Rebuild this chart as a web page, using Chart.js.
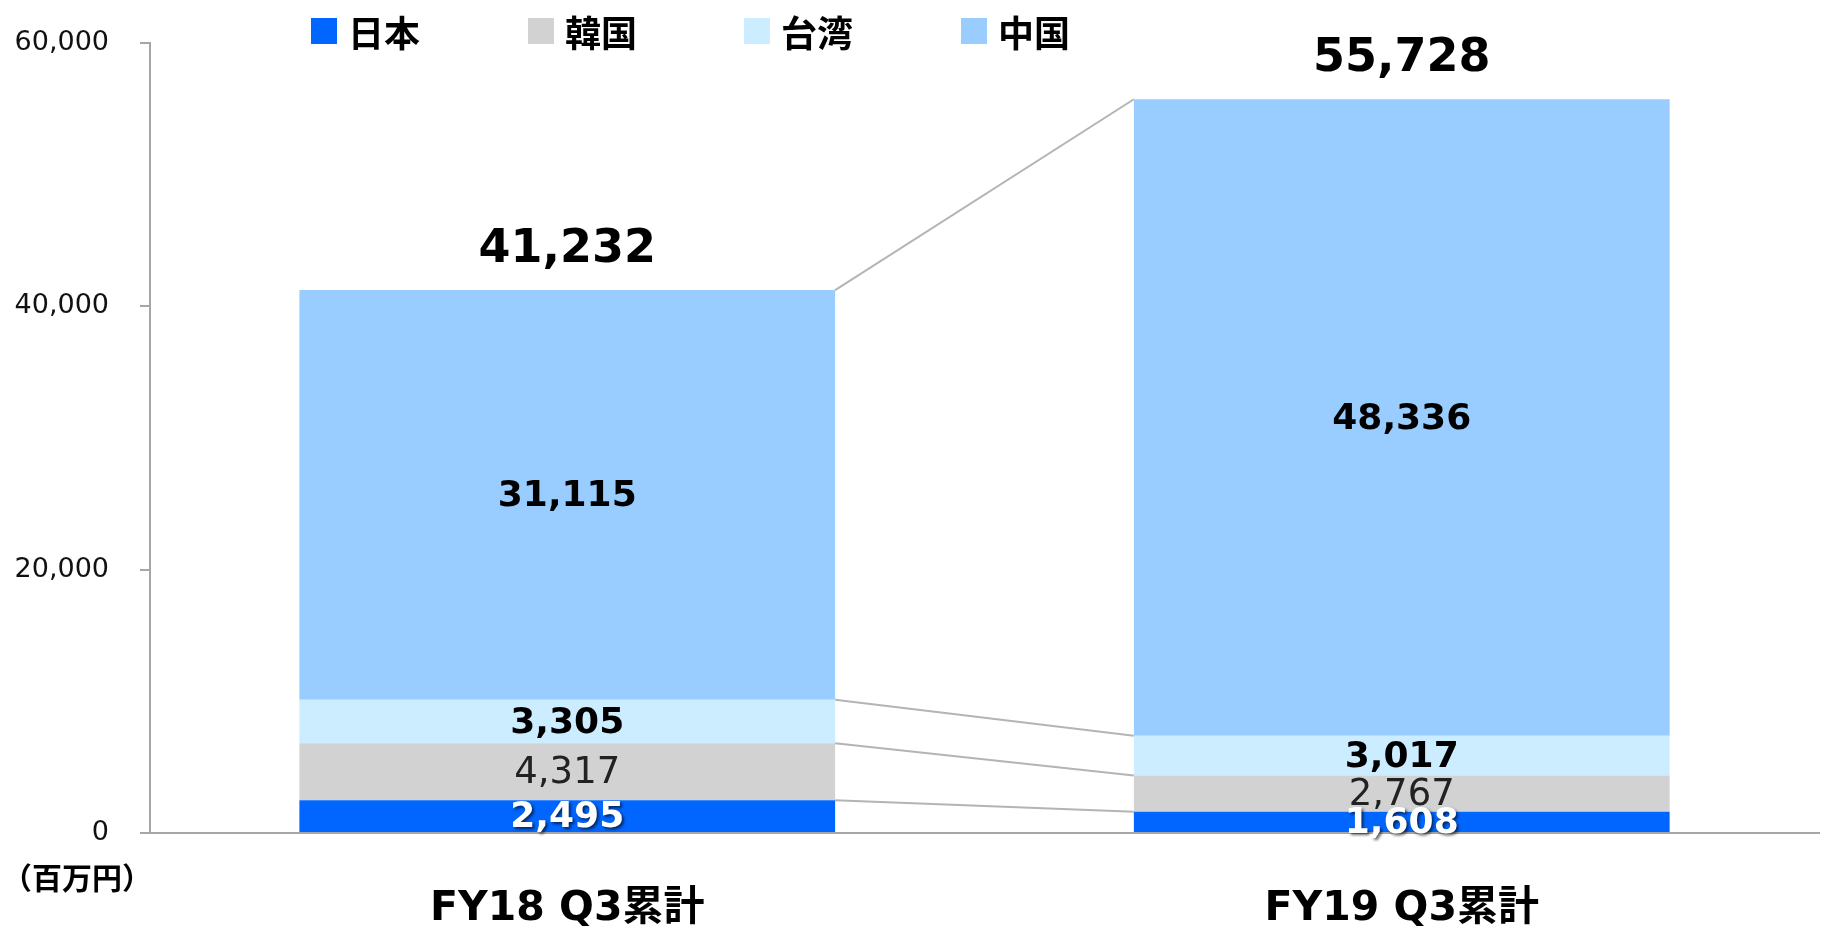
<!DOCTYPE html>
<html>
<head>
<meta charset="utf-8">
<script src="https://cdn.jsdelivr.net/npm/chart.js@4.4.0/dist/chart.umd.min.js"></script>
<style>
  body { margin: 0; background: #fff; }
  #wrap { position: relative; width: 1826px; height: 930px; }
  #legend { position: absolute; left: 0; top: 0; width: 1826px; height: 60px; font-family: "DejaVu Sans", "Noto Sans CJK JP", sans-serif; }
  .item { position: absolute; top: 14px; height: 34px; display: flex; align-items: center; font-weight: bold; font-size: 36px; color: #000; }
  .box { width: 26px; height: 26px; margin-right: 11px; }
  #unit { position: absolute; left: 2px; top: 854px; font: bold 30px "Noto Sans CJK JP", sans-serif; color: #000; }
</style>
</head>
<body>
<div id="wrap">
  <canvas id="myChart" width="1826" height="930"></canvas>
  <div id="legend"></div>
  <div id="unit">（百万円）</div>
</div>
<script>
var categories = ['FY18 Q3累計', 'FY19 Q3累計'];
var seriesNames = ['日本', '韓国', '台湾', '中国'];
var japan = [2495, 1608];
var korea = [4317, 2767];
var taiwan = [3305, 3017];
var china = [31115, 48336];
var yTicks = [0, 20000, 40000, 60000];

var colors = ['#0066FF', '#D2D2D2', '#CCECFF', '#99CCFF'];
var allSeries = [japan, korea, taiwan, china];

// legend
var legend = document.getElementById('legend');
var legendX = [311, 528, 744, 961];
seriesNames.forEach(function(name, i) {
    var d = document.createElement('div');
    d.className = 'item';
    d.style.left = legendX[i] + 'px';
    d.innerHTML = '<div class="box" style="background:' + colors[i] + '"></div>' + name;
    legend.appendChild(d);
});

function fmt(v) {
    return v.toLocaleString('en-US');
}

var labelStyles = [
    { font: 'bold 36px "DejaVu Sans"', color: '#FFFFFF', shadow: true },
    { font: '37px "DejaVu Sans"', color: '#222222', shadow: false },
    { font: 'bold 36px "DejaVu Sans"', color: '#000000', shadow: false },
    { font: 'bold 36px "DejaVu Sans"', color: '#000000', shadow: false }
];

var barExtras = {
    id: 'barExtras',
    beforeDatasetsDraw: function(chart) {
        var ctx = chart.ctx;
        ctx.save();
        ctx.strokeStyle = '#B4B4B4';
        ctx.lineWidth = 2;
        chart.data.datasets.forEach(function(ds, i) {
            var meta = chart.getDatasetMeta(i);
            var a = meta.data[0], b = meta.data[1];
            ctx.beginPath();
            ctx.moveTo(a.x + a.width / 2, a.y);
            ctx.lineTo(b.x - b.width / 2, b.y);
            ctx.stroke();
        });
        ctx.restore();
    },
    afterDatasetsDraw: function(chart) {
        var ctx = chart.ctx;
        ctx.save();
        ctx.textAlign = 'center';
        ctx.textBaseline = 'middle';
        chart.data.datasets.forEach(function(ds, i) {
            var meta = chart.getDatasetMeta(i);
            var st = labelStyles[i];
            meta.data.forEach(function(el, j) {
                ctx.font = st.font;
                ctx.fillStyle = st.color;
                if (st.shadow) {
                    ctx.shadowColor = 'rgba(0,0,0,0.6)';
                    ctx.shadowOffsetX = 2;
                    ctx.shadowOffsetY = 2;
                    ctx.shadowBlur = 3;
                } else {
                    ctx.shadowColor = 'transparent';
                }
                ctx.fillText(fmt(ds.data[j]), el.x, (el.y + el.base) / 2 + 2);
            });
        });
        // totals
        ctx.shadowColor = 'transparent';
        var last = chart.getDatasetMeta(chart.data.datasets.length - 1);
        ctx.font = 'bold 46px "DejaVu Sans"';
        ctx.fillStyle = '#000';
        last.data.forEach(function(el, j) {
            var total = 0;
            allSeries.forEach(function(s) { total += s[j]; });
            ctx.fillText(fmt(total), el.x, el.y - 40);
        });
        ctx.restore();
    }
};

var ctx = document.getElementById('myChart').getContext('2d');
var chart = new Chart(ctx, {
    type: 'bar',
    data: {
        labels: categories,
        datasets: seriesNames.map(function(name, i) {
            return {
                label: name,
                data: allSeries[i],
                backgroundColor: colors[i],
                borderWidth: 0,
                barPercentage: 0.642,
                categoryPercentage: 1.0
            };
        })
    },
    options: {
        responsive: false,
        animation: false,
        layout: { padding: { left: 14, right: 7, top: 43, bottom: 2 } },
        plugins: {
            legend: { display: false },
            tooltip: { enabled: false }
        },
        scales: {
            x: {
                stacked: true,
                grid: { display: false },
                border: { display: true, color: '#A6A6A6', width: 2 },
                afterFit: function(axis) { axis.height = 95; },
                ticks: {
                    padding: 44,
                    color: '#000',
                    font: { family: '"DejaVu Sans", "Noto Sans CJK JP"', size: 41, weight: 'bold' }
                }
            },
            y: {
                stacked: true,
                min: 0,
                max: 60000,
                afterFit: function(axis) {
                    axis.width = 136;
                    axis.paddingTop = 0;
                    axis.paddingBottom = 0;
                },
                afterBuildTicks: function(axis) {
                    axis.ticks = yTicks.map(function(v) { return { value: v }; });
                },
                grid: { drawOnChartArea: false, drawTicks: true, tickLength: 10, color: '#A6A6A6', lineWidth: 2 },
                border: { display: true, color: '#A6A6A6', width: 2 },
                ticks: {
                    padding: 31,
                    color: '#111',
                    font: { family: '"DejaVu Sans"', size: 27 },
                    callback: function(v) { return fmt(v); }
                }
            }
        }
    },
    plugins: [barExtras]
});
</script>
</body>
</html>
